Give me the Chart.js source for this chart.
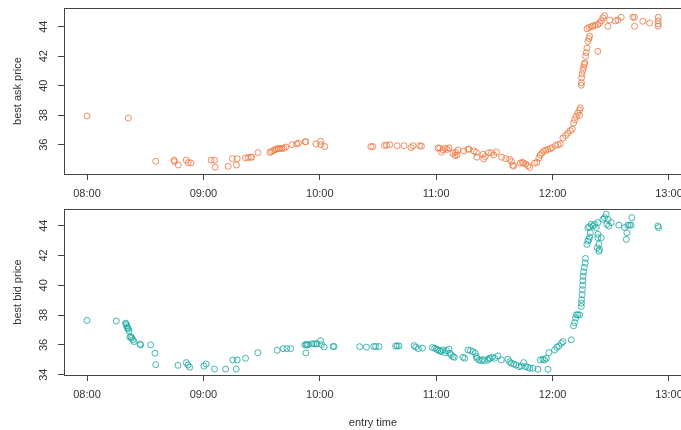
<!DOCTYPE html>
<html lang="en">
<head>
    <meta charset="UTF-8">
    <title>Best ask / best bid by entry time</title>
    <script src="https://cdn.jsdelivr.net/npm/chart.js"></script>
    <style>
        body {
            margin: 0;
            background: #ffffff;
            overflow: hidden;
            font-family: "Liberation Sans", Arial, sans-serif;
        }
        #wrap {
            position: relative;
            width: 690px;
            height: 430px;
        }
        #askChart { position: absolute; left: 0; top: 0; }
        #bidChart { position: absolute; left: 0; top: 200px; }
    </style>
</head>
<body>
    <div id="wrap">
        <canvas id="askChart" width="690" height="200"></canvas>
        <canvas id="bidChart" width="690" height="230"></canvas>
    </div>

    <script>
        // entry times are in hours of the day (8.5 = 08:30)
        const askTime = [
            8.000, 8.355, 8.590, 8.747, 8.753, 8.784, 8.852, 8.870, 8.893, 9.067,
            9.096, 9.101, 9.213, 9.249, 9.283, 9.290, 9.362, 9.385, 9.408, 9.414,
            9.468, 9.571, 9.585, 9.599, 9.614, 9.628, 9.642, 9.657, 9.674, 9.691,
            9.708, 9.762, 9.800, 9.817, 9.874, 9.880, 9.966, 10.006, 10.009, 10.043,
            10.438, 10.455, 10.555, 10.573, 10.601, 10.664, 10.724, 10.784, 10.801, 10.858,
            10.873, 11.015, 11.030, 11.045, 11.058, 11.076, 11.093, 11.110, 11.144, 11.161,
            11.167, 11.179, 11.187, 11.236, 11.273, 11.282, 11.324, 11.345, 11.350, 11.402,
            11.408, 11.422, 11.451, 11.474, 11.494, 11.517, 11.562, 11.597, 11.631, 11.648,
            11.657, 11.665, 11.723, 11.740, 11.751, 11.768, 11.788, 11.803, 11.845, 11.865,
            11.882, 11.894, 11.908, 11.923, 11.940, 11.960, 11.980, 11.997, 12.026, 12.046,
            12.066, 12.089, 12.112, 12.131, 12.152, 12.169, 12.180, 12.189, 12.203, 12.217,
            12.232, 12.238, 12.232, 12.246, 12.248, 12.250, 12.254, 12.260, 12.266, 12.272,
            12.277, 12.283, 12.289, 12.295, 12.303, 12.312, 12.318, 12.389, 12.295, 12.312,
            12.332, 12.346, 12.366, 12.389, 12.403, 12.418, 12.432, 12.446, 12.475, 12.489,
            12.541, 12.561, 12.590, 12.689, 12.704, 12.704, 12.775, 12.833, 12.907, 12.907,
            12.907, 12.907
        ];
        const askPrice = [
            37.95, 37.80, 34.87, 34.95, 34.85, 34.62, 34.96, 34.78, 34.76, 34.95,
            34.95, 34.47, 34.53, 35.05, 34.62, 35.05, 35.10, 35.13, 35.15, 35.15,
            35.46, 35.48, 35.52, 35.60, 35.66, 35.70, 35.74, 35.74, 35.74, 35.76,
            35.84, 36.00, 36.05, 36.10, 36.20, 36.20, 36.05, 36.23, 36.00, 35.87,
            35.87, 35.87, 35.95, 35.97, 36.00, 35.93, 35.93, 35.80, 35.93, 35.93,
            35.90, 35.77, 35.77, 35.50, 35.64, 35.76, 35.68, 35.78, 35.42, 35.25,
            35.48, 35.30, 35.64, 35.57, 35.69, 35.69, 35.57, 35.48, 35.15, 35.35,
            35.03, 35.20, 35.45, 35.45, 35.30, 35.50, 35.15, 35.05, 35.00, 34.85,
            34.60, 34.55, 34.75, 34.80, 34.75, 34.68, 34.58, 34.45, 34.75, 34.80,
            35.10, 35.30, 35.42, 35.55, 35.62, 35.68, 35.73, 35.80, 35.95, 36.00,
            36.05, 36.45, 36.62, 36.78, 36.95, 37.05, 37.47, 37.70, 37.92, 38.15,
            38.35, 38.50, 37.99, 40.03, 40.20, 40.55, 40.80, 41.05, 41.25, 41.45,
            41.54, 42.00, 42.25, 42.55, 43.00, 43.20, 43.35, 42.33, 43.86, 43.95,
            44.00, 44.05, 44.10, 44.15, 44.25, 44.40, 44.60, 44.75, 44.03, 44.45,
            44.40, 44.45, 44.64, 44.64, 44.64, 44.03, 44.37, 44.25, 44.64, 44.40,
            44.20, 44.03
        ];

        const bidTime = [
            8.000, 8.252, 8.332, 8.336, 8.340, 8.346, 8.350, 8.355, 8.361, 8.369,
            8.377, 8.384, 8.395, 8.403, 8.455, 8.461, 8.547, 8.584, 8.590, 8.781,
            8.853, 8.868, 8.882, 9.004, 9.024, 9.096, 9.191, 9.253, 9.282, 9.290,
            9.362, 9.468, 9.634, 9.685, 9.717, 9.749, 9.880, 9.871, 9.883, 9.890,
            9.900, 9.930, 9.950, 9.965, 9.977, 10.006, 10.015, 10.038, 10.114, 10.123,
            10.343, 10.401, 10.464, 10.480, 10.509, 10.652, 10.665, 10.681, 10.810, 10.824,
            10.847, 10.882, 10.967, 10.987, 11.002, 11.015, 11.030, 11.045, 11.058, 11.073,
            11.088, 11.110, 11.116, 11.130, 11.144, 11.156, 11.230, 11.245, 11.273, 11.294,
            11.316, 11.336, 11.345, 11.350, 11.367, 11.388, 11.400, 11.416, 11.445, 11.455,
            11.465, 11.482, 11.502, 11.530, 11.560, 11.616, 11.631, 11.645, 11.665, 11.688,
            11.711, 11.731, 11.751, 11.768, 11.788, 11.803, 11.831, 11.874, 11.894, 11.917,
            11.931, 11.946, 11.960, 11.968, 12.017, 12.037, 12.054, 12.075, 12.089, 12.160,
            12.180, 12.189, 12.197, 12.203, 12.217, 12.232, 12.246, 12.248, 12.249, 12.254,
            12.256, 12.258, 12.260, 12.262, 12.266, 12.272, 12.280, 12.283, 12.295, 12.303,
            12.312, 12.318, 12.324, 12.303, 12.318, 12.332, 12.346, 12.361, 12.375, 12.389,
            12.389, 12.389, 12.398, 12.384, 12.398, 12.403, 12.418, 12.432, 12.446, 12.461,
            12.475, 12.466, 12.483, 12.504, 12.569, 12.618, 12.633, 12.638, 12.647, 12.661,
            12.675, 12.681, 12.904, 12.910
        ];
        const bidPrice = [
            37.64, 37.60, 37.46, 37.40, 37.30, 37.19, 37.12, 37.08, 36.94, 36.52,
            36.55, 36.45, 36.34, 36.22, 36.05, 36.00, 36.00, 35.44, 34.67, 34.63,
            34.81, 34.65, 34.50, 34.58, 34.72, 34.38, 34.38, 34.99, 34.38, 34.99,
            35.10, 35.48, 35.64, 35.75, 35.75, 35.75, 35.46, 36.00, 36.02, 36.00,
            36.02, 36.07, 36.07, 36.07, 36.07, 36.28, 36.02, 35.86, 35.89, 35.89,
            35.88, 35.85, 35.89, 35.89, 35.89, 35.93, 35.93, 35.93, 35.95, 35.85,
            35.75, 35.78, 35.82, 35.78, 35.71, 35.66, 35.60, 35.55, 35.66, 35.48,
            35.62, 35.71, 35.44, 35.33, 35.21, 35.17, 35.17, 35.10, 35.66, 35.62,
            35.55, 35.44, 35.21, 35.10, 34.99, 34.94, 35.02, 34.94, 34.99, 35.10,
            35.10, 35.17, 35.10, 35.26, 34.99, 35.04, 34.87, 34.77, 34.72, 34.65,
            34.54, 34.58, 34.81, 34.54, 34.50, 34.43, 34.43, 34.36, 34.99, 35.04,
            34.99, 35.10, 34.36, 35.48, 35.66, 35.84, 35.93, 36.11, 36.22, 36.34,
            37.28, 37.50, 37.80, 38.02, 38.02, 38.02, 38.58, 38.80, 39.03, 39.37,
            39.70, 40.00, 40.30, 40.60, 40.90, 41.20, 41.50, 41.80, 42.74, 42.97,
            43.08, 43.24, 43.53, 43.87, 43.91, 44.09, 43.98, 44.09, 43.87, 44.21,
            43.42, 43.19, 42.74, 42.52, 42.29, 42.41, 43.19, 44.43, 44.54, 44.77,
            44.43, 44.09, 43.98, 44.21, 44.04, 43.87, 43.08, 43.53, 44.04, 44.04,
            44.04, 44.54, 43.98, 43.87
        ];

        const hourTicks = [8, 9, 10, 11, 12, 13];
        const askTicks = [36, 38, 40, 42, 44];
        const bidTicks = [34, 36, 38, 40, 42, 44];

        const textColor = '#333333';
        const lineColor = '#444444';
        const fontFamily = '"Liberation Sans", Arial, sans-serif';

        function toPoints(times, prices) {
            return times.map((t, i) => ({ x: t, y: prices[i] }));
        }

        function hourLabel(h) {
            return String(h).padStart(2, '0') + ':00';
        }

        // box round the plot region plus R-style rotated y tick labels
        const framePlugin = {
            id: 'frame',
            afterDraw(chart) {
                const { ctx, chartArea: a } = chart;
                const yScale = chart.scales.y;
                ctx.save();
                ctx.strokeStyle = lineColor;
                ctx.lineWidth = 1;
                ctx.strokeRect(a.left + 0.5, a.top + 0.5, a.right - a.left, a.bottom - a.top);

                ctx.fillStyle = textColor;
                ctx.font = '11px ' + fontFamily;
                ctx.textAlign = 'center';
                ctx.textBaseline = 'middle';
                yScale.ticks.forEach(t => {
                    const y = yScale.getPixelForValue(t.value);
                    ctx.save();
                    ctx.translate(44, y);
                    ctx.rotate(-Math.PI / 2);
                    ctx.fillText(String(t.value), 0, 0);
                    ctx.restore();
                });
                ctx.restore();
            }
        };

        function makePanel(canvasId, points, color, cfg) {
            const ctx = document.getElementById(canvasId).getContext('2d');
            return new Chart(ctx, {
                type: 'scatter',
                data: {
                    datasets: [{
                        data: points,
                        borderColor: color,
                        backgroundColor: 'rgba(0,0,0,0)',
                        borderWidth: 1,
                        pointRadius: 3,
                        pointHoverRadius: 3
                    }]
                },
                options: {
                    responsive: false,
                    animation: false,
                    events: [],
                    layout: { padding: { top: cfg.padTop, right: 8, left: 0, bottom: 0 } },
                    plugins: {
                        legend: { display: false },
                        tooltip: { enabled: false }
                    },
                    scales: {
                        x: {
                            type: 'linear',
                            min: 7.8024,
                            max: 13.1117,
                            afterBuildTicks: s => { s.ticks = hourTicks.map(v => ({ value: v })); },
                            afterFit: s => { s.height = cfg.xHeight; },
                            border: { display: false },
                            grid: {
                                drawOnChartArea: false,
                                drawTicks: true,
                                tickLength: 6,
                                color: lineColor
                            },
                            ticks: {
                                color: textColor,
                                font: { family: fontFamily, size: 11 },
                                padding: 7,
                                maxRotation: 0,
                                callback: v => hourLabel(v)
                            },
                            title: {
                                display: cfg.xTitle !== '',
                                text: cfg.xTitle,
                                color: textColor,
                                font: { family: fontFamily, size: 11 },
                                padding: { top: 0, bottom: 0 }
                            }
                        },
                        y: {
                            min: cfg.yMin,
                            max: cfg.yMax,
                            afterBuildTicks: s => { s.ticks = cfg.yTicks.map(v => ({ value: v })); },
                            afterFit: s => { s.width = 64; },
                            border: { display: false },
                            grid: {
                                drawOnChartArea: false,
                                drawTicks: true,
                                tickLength: 6,
                                color: lineColor
                            },
                            ticks: { display: false },
                            title: {
                                display: true,
                                text: cfg.yTitle,
                                color: textColor,
                                font: { family: fontFamily, size: 11 },
                                padding: { top: 11, bottom: 0 }
                            }
                        }
                    }
                },
                plugins: [framePlugin]
            });
        }

        makePanel('askChart', toPoints(askTime, askPrice), 'rgba(238,121,66,0.85)', {
            padTop: 8, xHeight: 26, yMin: 34.01, yMax: 45.27,
            yTicks: askTicks, yTitle: 'best ask price', xTitle: ''
        });

        makePanel('bidChart', toPoints(bidTime, bidPrice), 'rgba(32,170,165,0.85)', {
            padTop: 9, xHeight: 55, yMin: 33.98, yMax: 45.12,
            yTicks: bidTicks, yTitle: 'best bid price', xTitle: 'entry time'
        });
    </script>
</body>
</html>
